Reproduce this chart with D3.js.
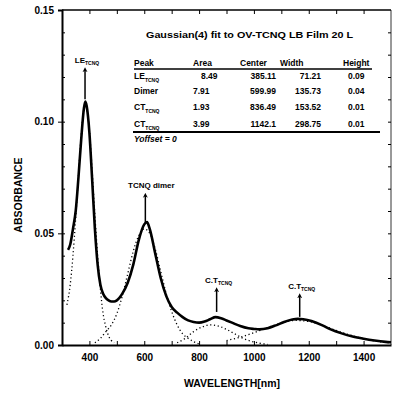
<!DOCTYPE html>
<html>
<head>
<meta charset="utf-8">
<script src="https://cdn.jsdelivr.net/npm/d3@7"></script>
<style>
  body { margin: 0; background: #fff; }
  text { font-family: "Liberation Sans", Arial, sans-serif; font-weight: bold; fill: #000; }
</style>
</head>
<body>
<div id="graph"></div>
<script>
//Chart size.
let w = 393;
let h = 395;

//Measured spectrum (solid line), wavelength in nm and absorbance.
let specWl  = [322, 330, 340, 350, 360, 370, 380, 385, 390, 400, 410, 420, 430, 440, 450, 460, 470, 480, 490, 500, 520, 540, 560, 580, 600, 610, 620, 640, 660, 680, 700, 720, 740, 760, 780, 800, 820, 840, 860, 880, 900, 920, 950, 980, 1000, 1020, 1050, 1080, 1110, 1140, 1160, 1180, 1210, 1250, 1280, 1320, 1360, 1400, 1440, 1480, 1500];
let specAbs = [0.0426, 0.045, 0.052, 0.060, 0.075, 0.092, 0.106, 0.109, 0.107, 0.095, 0.074, 0.052, 0.036, 0.027, 0.023, 0.021, 0.020, 0.0195, 0.0195, 0.020, 0.023, 0.028, 0.036, 0.047, 0.054, 0.055, 0.052, 0.041, 0.030, 0.022, 0.017, 0.0145, 0.0125, 0.011, 0.0103, 0.010, 0.0105, 0.0115, 0.0125, 0.012, 0.011, 0.0100, 0.0085, 0.0075, 0.0072, 0.0070, 0.0075, 0.0088, 0.0103, 0.0114, 0.0117, 0.0115, 0.0107, 0.0088, 0.0070, 0.0052, 0.0038, 0.0028, 0.0020, 0.0014, 0.0012];

//Fitted Gaussian components (dotted lines).
let leWl  = [318, 330, 340, 350, 360, 370, 380, 385, 390, 400, 410, 420, 430, 440, 450, 460, 470, 480, 490];
let leAbs = [0.018, 0.027, 0.040, 0.057, 0.076, 0.094, 0.106, 0.108, 0.106, 0.096, 0.078, 0.058, 0.040, 0.025, 0.014, 0.008, 0.004, 0.002, 0.001];

let dimerWl  = [420, 440, 460, 480, 500, 520, 540, 560, 580, 600, 620, 640, 660, 680, 700, 720, 740, 760, 780, 800];
let dimerAbs = [0.001, 0.003, 0.006, 0.009, 0.014, 0.022, 0.032, 0.042, 0.049, 0.052, 0.050, 0.043, 0.033, 0.023, 0.015, 0.009, 0.005, 0.003, 0.0015, 0.0005];

let ct1Wl  = [720, 750, 780, 810, 840, 870, 900, 930, 960, 990, 1020, 1050];
let ct1Abs = [0.001, 0.003, 0.006, 0.008, 0.009, 0.0085, 0.007, 0.005, 0.003, 0.0017, 0.0008, 0.0003];

let ct2Wl  = [900, 950, 1000, 1050, 1100, 1150, 1200, 1250, 1300, 1350, 1400, 1450, 1500];
let ct2Abs = [0.002, 0.0035, 0.0055, 0.0078, 0.0098, 0.011, 0.0105, 0.0088, 0.0065, 0.0045, 0.0028, 0.0016, 0.001];

//Tick labels.
let xTicks = [400, 600, 800, 1000, 1200, 1400];
let yTicks = [0.00, 0.05, 0.10, 0.15];

//Peak annotations: wavelength, arrow start, arrow end, label.
let annWl    = [384, 604, 864, 1167];
let annFrom  = [0.110, 0.0547, 0.0148, 0.0126];
let annTo    = [0.1233, 0.067, 0.0247, 0.022];
let annMain  = ["LE", "TCNQ dimer", "C.T", "C.T"];
let annSub   = ["TCNQ", "", "TCNQ", "TCNQ"];

//Fit table.
let tableTitle = "Gaussian(4) fit to OV-TCNQ LB Film 20 L";
let tableHead  = ["Peak", "Area", "Center", "Width", "Height"];
let peakName   = ["LE", "Dimer", "CT", "CT"];
let peakSub    = ["TCNQ", "", "TCNQ", "TCNQ"];
let peakArea   = ["8.49", "7.91", "1.93", "3.99"];
let peakCenter = ["385.11", "599.99", "836.49", "1142.1"];
let peakWidth  = ["71.21", "135.73", "153.52", "298.75"];
let peakHeight = ["0.09", "0.04", "0.01", "0.01"];

const svg = d3.select("#graph")
  .append("svg")
  .attr("width", w)
  .attr("height", h);

//Scales.
const xScale = d3.scaleLinear().domain([300, 1500]).range([62, 391]);
const yScale = d3.scaleLinear().domain([0, 0.15]).range([345, 10]);

//Frame: top and right lines.
svg.append("line").attr("x1", 62).attr("x2", 391).attr("y1", 10).attr("y2", 10)
  .attr("stroke", "#000").attr("stroke-width", 1.5);
svg.append("line").attr("x1", 391).attr("x2", 391).attr("y1", 10).attr("y2", 345)
  .attr("stroke", "#000").attr("stroke-width", 0.8);

//Bottom axis with inward ticks every 100 nm.
const xAxis = svg.append("g")
  .attr("transform", "translate(0,345)")
  .call(d3.axisBottom(xScale).tickValues(xTicks).tickSize(0).tickPadding(9).tickFormat(d3.format("d")));
xAxis.select(".domain").attr("stroke-width", 2);
xAxis.selectAll("text").attr("font-size", 10).style("font-family", "Liberation Sans").style("font-weight", "bold");
svg.append("g").attr("transform", "translate(0,345)")
  .call(d3.axisTop(xScale).tickValues(d3.range(400, 1500, 100)).tickSize(4).tickFormat(""))
  .call(g => g.select(".domain").remove());

//Top ticks.
svg.append("g").attr("transform", "translate(0,10)")
  .call(d3.axisBottom(xScale).tickValues(d3.range(400, 1500, 100)).tickSize(4).tickFormat(""))
  .call(g => g.select(".domain").remove());

//Left axis.
const yAxis = svg.append("g")
  .attr("transform", "translate(62,0)")
  .call(d3.axisLeft(yScale).tickValues(yTicks).tickSize(4).tickPadding(4).tickFormat(d3.format(".2f")));
yAxis.select(".domain").attr("stroke-width", 2);
yAxis.selectAll("text").attr("font-size", 10).style("font-family", "Liberation Sans").style("font-weight", "bold");
svg.append("g").attr("transform", "translate(62,0)")
  .call(d3.axisRight(yScale).tickValues(d3.range(0.01, 0.15, 0.01)).tickSize(3).tickFormat(""))
  .call(g => g.select(".domain").remove());

//Right ticks.
svg.append("g").attr("transform", "translate(391,0)")
  .call(d3.axisLeft(yScale).tickValues(d3.range(0.01, 0.15, 0.01)).tickSize(3).tickFormat(""))
  .call(g => g.select(".domain").remove());

//Axis titles.
svg.append("text")
  .attr("x", 232).attr("y", 387)
  .attr("text-anchor", "middle")
  .attr("font-size", 10.5)
  .text("WAVELENGTH[nm]");

svg.append("text")
  .attr("transform", "translate(22,195) rotate(-90)")
  .attr("text-anchor", "middle")
  .attr("font-size", 10.5)
  .text("ABSORBANCE");

//Lines.
const line = d3.line()
  .x(d => xScale(d[0]))
  .y(d => yScale(d[1]))
  .curve(d3.curveMonotoneX);

const comps = [[leWl, leAbs], [dimerWl, dimerAbs], [ct1Wl, ct1Abs], [ct2Wl, ct2Abs]];
comps.forEach(c => {
  svg.append("path")
    .datum(d3.zip(c[0], c[1]))
    .attr("d", line)
    .attr("fill", "none")
    .attr("stroke", "#000")
    .attr("stroke-width", 1.3)
    .attr("stroke-dasharray", "1.2,2.6");
});

svg.append("path")
  .datum(d3.zip(specWl, specAbs))
  .attr("d", line)
  .attr("fill", "none")
  .attr("stroke", "#000")
  .attr("stroke-width", 2.6)
  .attr("stroke-linejoin", "round");

//Arrow head marker.
svg.append("defs").append("marker")
  .attr("id", "arrow")
  .attr("viewBox", "0 0 10 10")
  .attr("refX", 5).attr("refY", 5)
  .attr("markerWidth", 5).attr("markerHeight", 7)
  .attr("markerUnits", "userSpaceOnUse")
  .attr("orient", "auto")
  .append("path")
  .attr("d", "M0,10 L5,0 L10,10 L5,7 Z")
  .attr("fill", "#000")
  .attr("transform", "rotate(90 5 5)");

//Peak annotations.
annWl.forEach((wl, i) => {
  svg.append("line")
    .attr("x1", xScale(wl)).attr("x2", xScale(wl))
    .attr("y1", yScale(annFrom[i])).attr("y2", yScale(annTo[i]))
    .attr("stroke", "#000").attr("stroke-width", 1.5)
    .attr("marker-end", "url(#arrow)");
  const t = svg.append("text")
    .attr("x", xScale(wl) + (i == 1 ? 6 : 2))
    .attr("y", yScale(annTo[i]) - 7)
    .attr("text-anchor", "middle")
    .attr("font-size", 8);
  t.append("tspan").text(annMain[i]);
  if (annSub[i]) t.append("tspan").attr("dy", 2).attr("font-size", 5).text(annSub[i]);
});

//Fit table.
svg.append("text")
  .attr("x", 146).attr("y", 38)
  .attr("font-size", 8.5)
  .attr("textLength", 207)
  .attr("lengthAdjust", "spacingAndGlyphs")
  .text(tableTitle);

let headX = [134, 193, 240, 280, 343];
tableHead.forEach((s, i) => {
  svg.append("text")
    .attr("x", headX[i]).attr("y", 66)
    .attr("font-size", 8.5)
    .text(s);
});
svg.append("line")
  .attr("x1", 134).attr("x2", 372)
  .attr("y1", 69).attr("y2", 69)
  .attr("stroke", "#000").attr("stroke-width", 1.3);

let rowY = [79, 94, 110, 127];
peakName.forEach((s, i) => {
  const t = svg.append("text").attr("x", 134).attr("y", rowY[i]).attr("font-size", 8.5);
  t.append("tspan").text(s);
  if (peakSub[i]) t.append("tspan").attr("dy", 2.5).attr("font-size", 5).text(peakSub[i]);
  svg.append("text").attr("x", i == 0 ? 201 : 193).attr("y", rowY[i]).attr("font-size", 8.5).text(peakArea[i]);
  svg.append("text").attr("x", 276).attr("y", rowY[i]).attr("font-size", 8.5).attr("text-anchor", "end").text(peakCenter[i]);
  svg.append("text").attr("x", 321).attr("y", rowY[i]).attr("font-size", 8.5).attr("text-anchor", "end").text(peakWidth[i]);
  svg.append("text").attr("x", 348).attr("y", rowY[i]).attr("font-size", 8.5).text(peakHeight[i]);
});

svg.append("line")
  .attr("x1", 133).attr("x2", 380)
  .attr("y1", 132).attr("y2", 132)
  .attr("stroke", "#000").attr("stroke-width", 2);

svg.append("text")
  .attr("x", 134).attr("y", 142)
  .attr("font-size", 8.5)
  .attr("font-style", "italic")
  .text("Yoffset = 0");
</script>
</body>
</html>
